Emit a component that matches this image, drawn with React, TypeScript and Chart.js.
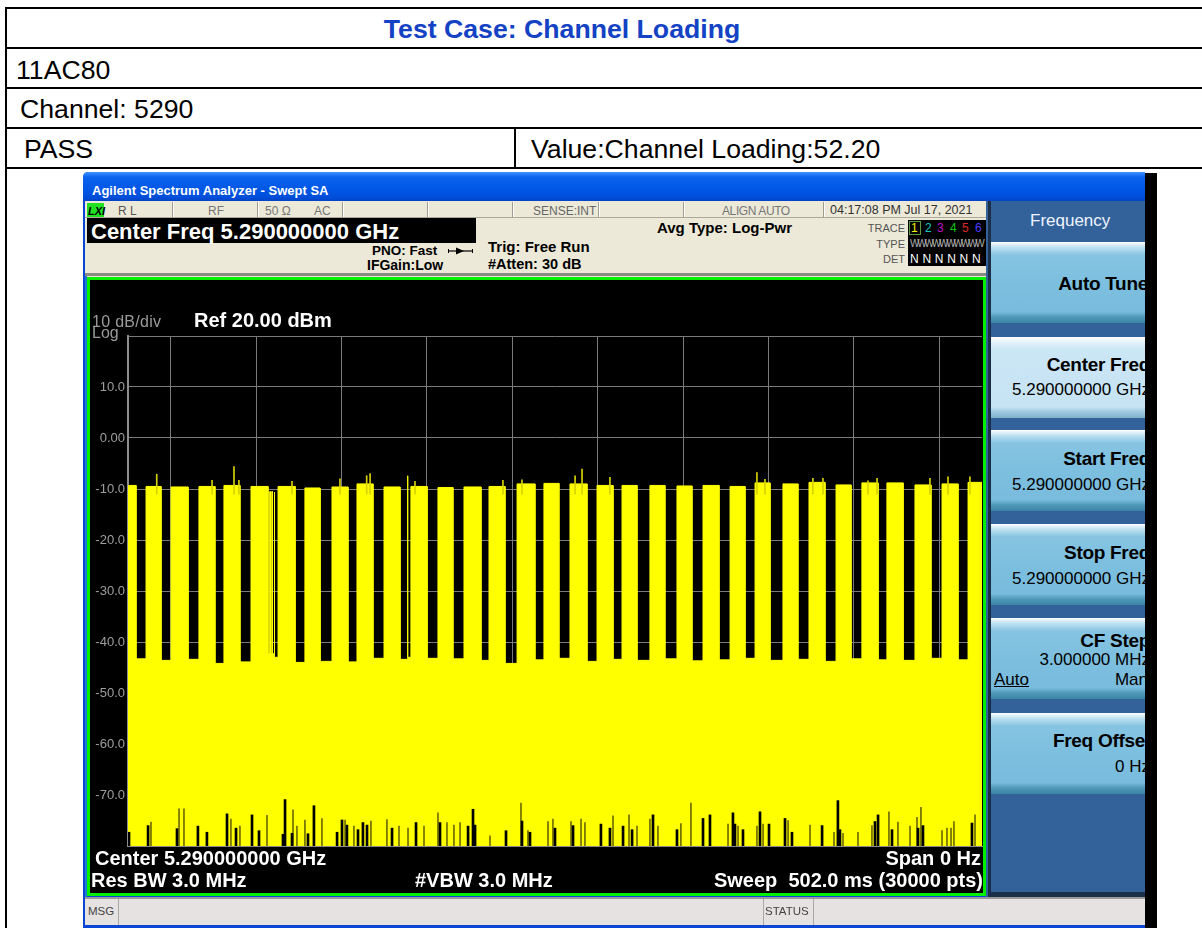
import React, { useEffect, useRef } from 'react';
import { Chart, registerables } from 'chart.js';

Chart.register(...registerables);

// ---------------- data (time axis in ms, level in dBm) ----------------
const SWEEP_MS = 502;
const xGridMs = [0, 50.2, 100.4, 150.6, 200.8, 251, 301.2, 351.4, 401.6, 451.8, 502];
const yTickValues = [20, 10, 0, -10, -20, -30, -40, -50, -60, -70, -80];
const yTickLabels = ['', '10.0', '0.00', '-10.0', '-20.0', '-30.0', '-40.0', '-50.0', '-60.0', '-70.0', ''];

// packet bursts: start, end, top level, floor level in the gap that follows
const burstStart = [0, 10.6, 25.3, 41.7, 56.4, 72.3, 83.4, 84.6, 86.0, 88.2, 104.0, 119.9, 134.6, 150.5, 164.3, 166.3, 182.2, 197.5, 212.2, 228.7, 244.5, 259.8, 275.7, 290.4, 306.8, 322.7, 338.0, 353.9, 368.6, 385.0, 400.3, 416.2, 431.4, 446.1, 462.6, 478.5, 493.8];
const burstEnd = [4.7, 19.4, 35.3, 51.1, 65.8, 82.3, 83.6, 84.8, 86.2, 98.2, 112.9, 129.3, 144.0, 159.9, 164.5, 175.8, 191.0, 207.5, 221.6, 239.2, 253.3, 269.8, 285.1, 299.2, 315.6, 331.5, 347.4, 362.7, 377.4, 393.8, 409.7, 425.0, 440.9, 455.6, 472.0, 487.9, 502];
const burstTop = [-9.3, -9.5, -9.6, -9.5, -9.3, -9.5, -10.5, -10.5, -10.6, -9.5, -9.8, -9.6, -9.0, -9.6, -7.4, -9.5, -9.7, -9.6, -9.5, -9.0, -8.9, -9.0, -9.3, -9.3, -9.3, -9.4, -9.3, -9.5, -8.8, -9.0, -8.7, -9.2, -8.8, -8.8, -9.2, -9.0, -8.7];
const gapFloor = [-43.3, -43.6, -43.4, -44.2, -43.9, -42.3, -42.3, -42.3, -43.0, -44.0, -43.8, -43.9, -43.2, -43.4, -43.0, -43.2, -43.3, -43.6, -44.2, -43.5, -43.2, -43.8, -43.4, -43.6, -43.3, -43.7, -43.5, -43.2, -43.6, -43.4, -43.8, -43.3, -43.5, -43.6, -43.2, -43.5, -43.5];

// narrow peaks above the burst tops
const peakTimes = [16.9, 49.4, 62.3, 65.2, 96.4, 124.6, 140.3, 142.3, 168.7, 220.4, 231.6, 262.8, 266.9, 283.3, 369.7, 374.4, 402.6, 408.5, 435.0, 440.3, 471.4, 482.0, 494.9];
const peakLevels = [-7.1, -8.3, -5.6, -8.3, -8.5, -8.0, -7.4, -7.0, -8.5, -8.3, -8.2, -7.4, -6.1, -7.7, -6.8, -8.1, -7.9, -7.9, -8.4, -7.9, -7.9, -7.6, -7.6];

// columns whose minimum sits above the bottom of the screen (dark notches at -80..-70)
const notchTimes = [0.6, 11.8, 13.5, 28.8, 30.0, 32.9, 41.1, 46.4, 58.2, 60.5, 63.5, 65.8, 72.9, 77.0, 81.7, 91.1, 92.3, 96.4, 97.0, 99.3, 104.0, 105.8, 109.3, 114.0, 122.9, 125.8, 127.6, 128.7, 132.8, 135.2, 138.1, 140.5, 142.8, 152.2, 155.2, 159.3, 164.6, 169.3, 174.0, 182.2, 183.4, 187.5, 191.6, 195.2, 199.9, 202.8, 204.0, 212.8, 222.2, 231.0, 231.6, 235.1, 236.3, 246.9, 249.8, 251.0, 260.4, 261.6, 266.3, 268.6, 278.0, 283.3, 285.1, 291.0, 294.5, 296.3, 299.2, 306.8, 308.6, 311.5, 322.7, 325.0, 330.9, 338.0, 342.1, 352.7, 355.6, 356.8, 358.6, 361.5, 369.7, 371.5, 373.3, 376.8, 386.2, 388.0, 390.3, 400.9, 408.0, 415.0, 417.3, 418.5, 420.3, 429.1, 437.3, 439.1, 440.9, 447.3, 449.1, 452.6, 459.7, 463.8, 464.4, 466.1, 467.3, 478.5, 481.4, 483.8, 485.5, 496.1, 497.9];
const notchLevels = [-77.3, -76.0, -75.3, -76.6, -72.7, -72.7, -76.1, -77.3, -73.7, -74.7, -76.5, -76.1, -73.9, -77.0, -74.0, -77.7, -70.9, -77.5, -72.9, -76.1, -74.9, -77.6, -72.1, -74.6, -77.3, -74.9, -74.9, -75.9, -76.1, -76.8, -75.4, -75.9, -75.1, -74.8, -76.5, -76.1, -76.5, -75.4, -76.1, -73.5, -75.4, -75.4, -75.9, -75.4, -76.1, -72.8, -75.9, -78.0, -77.0, -71.6, -75.1, -77.0, -77.3, -75.2, -74.7, -76.5, -75.2, -76.0, -74.7, -75.4, -75.7, -76.5, -74.1, -76.1, -73.9, -76.8, -76.1, -74.7, -73.9, -76.1, -76.8, -75.6, -71.6, -74.6, -73.9, -75.7, -73.5, -75.7, -76.1, -76.8, -76.1, -73.3, -75.7, -75.7, -74.6, -75.0, -77.3, -75.9, -76.0, -77.3, -71.1, -76.8, -77.5, -77.3, -76.0, -75.2, -73.9, -73.3, -76.8, -75.3, -76.1, -74.4, -76.5, -72.4, -76.0, -77.0, -76.5, -76.5, -75.2, -75.5, -73.9];
const notchDark = [1, 1, 0, 1, 0, 0, 1, 1, 1, 0, 1, 0, 1, 1, 0, 1, 1, 1, 0, 0, 0, 1, 1, 0, 1, 1, 0, 1, 0, 1, 1, 1, 0, 0, 1, 0, 0, 1, 0, 0, 1, 0, 0, 0, 1, 1, 1, 0, 1, 0, 1, 0, 1, 0, 0, 1, 0, 1, 0, 0, 1, 1, 0, 1, 0, 1, 0, 0, 1, 0, 1, 0, 0, 1, 1, 0, 1, 1, 0, 1, 0, 1, 0, 1, 1, 0, 1, 0, 1, 0, 1, 1, 0, 0, 0, 1, 1, 0, 1, 0, 0, 0, 1, 0, 1, 0, 0, 0, 0, 1, 0];

// ---------------- helpers ----------------
const SANS = '"Liberation Sans", Arial, sans-serif';

type TP = {
  x: number; b: number; s: number; bold?: boolean; c?: string; al?: 'l' | 'r' | 'c';
  ff?: string; ls?: number; u?: boolean; it?: boolean; children: React.ReactNode;
};
function T({ x, b, s, bold, c = '#000', al = 'l', ff = SANS, ls, u, it, children }: TP) {
  return (
    <div
      style={{
        position: 'absolute', left: x, top: b - 0.8465 * s, fontSize: s, lineHeight: `${s}px`,
        fontFamily: ff, fontWeight: bold ? 700 : 400, fontStyle: it ? 'italic' : 'normal', color: c,
        whiteSpace: 'pre', letterSpacing: ls, textDecoration: u ? 'underline' : 'none',
        transform: al === 'r' ? 'translateX(-100%)' : al === 'c' ? 'translateX(-50%)' : undefined,
      }}
    >
      {children}
    </div>
  );
}
function B({ x, y, w, h, bg, st }: { x: number; y: number; w: number; h: number; bg: string; st?: React.CSSProperties }) {
  return <div style={{ position: 'absolute', left: x, top: y, width: w, height: h, background: bg, ...st }} />;
}

const btnNormal = 'linear-gradient(#ffffff 0px, #c2e2f2 5px, #86c4e2 13px, #7dbfdf 40px, #78bbdc 70px, #4f98b8 75px, #3b84a6 81px)';
const btnSel = 'linear-gradient(#ffffff 0px, #e4f3fb 5px, #cbe6f5 13px, #c6e3f4 70px, #9cc8df 75px, #7fb1cc 81px)';

function Trace() {
  const ref = useRef<HTMLCanvasElement>(null);
  useEffect(() => {
    const tracePoints: { x: number; y: number }[] = [];
    burstStart.forEach((s, i) => {
      const before = i === 0 ? gapFloor[0] : gapFloor[i - 1];
      tracePoints.push({ x: s, y: before }, { x: s, y: burstTop[i] }, { x: burstEnd[i], y: burstTop[i] }, { x: burstEnd[i], y: gapFloor[i] });
    });
    const peaks = peakTimes.map((t, i) => ({ x: t, y: [-11, peakLevels[i]] }));
    const darkNotches = notchTimes.map((t, i) => ({ t, v: notchLevels[i], d: notchDark[i] })).filter((p) => p.d === 1).map((p) => ({ x: p.t, y: [-80, p.v] }));
    const oliveNotches = notchTimes.map((t, i) => ({ t, v: notchLevels[i], d: notchDark[i] })).filter((p) => p.d === 0).map((p) => ({ x: p.t, y: [-80, p.v] }));

    const chart = new Chart(ref.current as HTMLCanvasElement, {
      type: 'line',
      data: {
        datasets: [
          { type: 'bar', data: darkNotches as any, backgroundColor: '#000000', barThickness: 2, grouped: false, order: 1 } as any,
          { type: 'bar', data: oliveNotches as any, backgroundColor: '#6f6c00', barThickness: 1, grouped: false, order: 1 } as any,
          { type: 'bar', data: peaks as any, backgroundColor: '#d6d200', barThickness: 1, grouped: false, order: 1 } as any,
          {
            type: 'line', data: tracePoints as any, borderColor: '#ffff00', borderWidth: 1, backgroundColor: '#ffff00',
            fill: 'start', pointRadius: 0, tension: 0, order: 2,
          } as any,
        ],
      },
      options: {
        animation: false,
        responsive: false,
        maintainAspectRatio: false,
        events: [],
        layout: { padding: { top: 56, right: 1, bottom: 47, left: 0 } },
        plugins: { legend: { display: false }, tooltip: { enabled: false } },
        scales: {
          x: {
            type: 'linear', min: 0, max: SWEEP_MS, offset: false,
            afterBuildTicks: (s: any) => { s.ticks = xGridMs.map((v) => ({ value: v })); },
            afterFit: (s: any) => { s.height = 0; },
            ticks: { display: false },
            grid: { color: '#7a7a7a', lineWidth: 1, drawTicks: false },
            border: { display: true, color: '#8a8a8a', width: 1 },
          },
          y: {
            type: 'linear', min: -80, max: 20,
            afterBuildTicks: (s: any) => { s.ticks = yTickValues.map((v) => ({ value: v })); },
            afterFit: (s: any) => { s.width = 38; },
            ticks: {
              autoSkip: false, padding: 3, color: '#9e9e9e', font: { family: 'Liberation Sans', size: 13 },
              callback: (v: any) => yTickLabels[yTickValues.indexOf(Number(v))] ?? '',
            },
            grid: { color: '#7a7a7a', lineWidth: 1, drawTicks: false },
            border: { display: true, color: '#8e8e8e', width: 2 },
          },
        },
      } as any,
    });
    return () => chart.destroy();
  }, []);
  return <canvas ref={ref} width={893} height={613} style={{ position: 'absolute', left: 90, top: 280, width: 893, height: 613 }} />;
}

export default function App() {
  const statusSeps = [172, 257, 342, 427, 512, 598, 683, 823];
  const buttons = [
    { y: 242, sel: false },
    { y: 337, sel: true },
    { y: 430, sel: false },
    { y: 524, sel: false },
    { y: 618, sel: false },
    { y: 713, sel: false },
  ];
  return (
    <div style={{ position: 'absolute', left: 0, top: 0, width: 1202, height: 928, overflow: 'hidden', background: '#ffffff', fontFamily: SANS }}>
      {/* document table */}
      <B x={5} y={7} w={1197} h={2} bg="#000" />
      <B x={5} y={47} w={1197} h={2} bg="#000" />
      <B x={5} y={87} w={1197} h={2} bg="#000" />
      <B x={5} y={127} w={1197} h={2} bg="#000" />
      <B x={5} y={167} w={1197} h={2} bg="#000" />
      <B x={5} y={7} w={2} h={921} bg="#000" />
      <B x={514} y={127} w={2} h={42} bg="#000" />
      <T x={562} b={39} s={26.67} bold c="#1442c4" al="c">Test Case: Channel Loading</T>
      <T x={16} b={80} s={26.67}>11AC80</T>
      <T x={20} b={119} s={26.67}>Channel: 5290</T>
      <T x={24} b={159} s={26.67}>PASS</T>
      <T x={531} b={159} s={26.67}>Value:Channel Loading:52.20</T>

      {/* analyzer window (clipped at the right) */}
      <div style={{ position: 'absolute', left: 0, top: 0, width: 1145, height: 928, overflow: 'hidden' }}>
        <B x={83} y={172} w={1070} h={760} bg="#0a46d4" st={{ borderTopLeftRadius: 5 }} />
        <B x={83} y={172} w={1070} h={29} bg="linear-gradient(#3f93ff 0%, #0b63ee 18%, #0058e6 55%, #004fdb 85%, #0044c8 100%)" st={{ borderTopLeftRadius: 5 }} />
        <T x={92} b={195} s={13} bold c="#ffffff">Agilent Spectrum Analyzer - Swept SA</T>

        {/* header area */}
        <B x={85} y={201} w={903} h={76} bg="#ece9d8" />
        <B x={85} y={217} w={903} h={1} bg="#aca899" />
        {statusSeps.map((sx) => (
          <React.Fragment key={sx}>
            <B x={sx} y={202} w={1} h={15} bg="#a09d90" />
            <B x={sx + 1} y={202} w={1} h={15} bg="#ffffff" />
          </React.Fragment>
        ))}
        <B x={87} y={203} w={17} h={14} bg="#22e022" />
        <T x={88} b={215} s={11} bold it c="#000">LXI</T>
        <T x={118} b={215} s={12} c="#555">R L</T>
        <T x={208} b={215} s={12} c="#777">RF</T>
        <T x={265} b={215} s={12} c="#777">50 Ω</T>
        <T x={314} b={215} s={12} c="#777">AC</T>
        <T x={533} b={215} s={12} c="#666">SENSE:INT</T>
        <T x={722} b={215} s={12} c="#777" ls={-0.4}>ALIGN AUTO</T>
        <T x={830} b={215} s={12.5} c="#333">04:17:08 PM Jul 17, 2021</T>

        <B x={87} y={218} w={389} h={25} bg="#000" />
        <T x={91} b={239.5} s={22} bold c="#ffffff">Center Freq 5.290000000 GHz</T>

        <T x={372} b={255.5} s={13.5} bold>PNO: Fast</T>
        <svg style={{ position: 'absolute', left: 447, top: 246, width: 27, height: 10 }} width={27} height={10}>
          <line x1={1} y1={5} x2={26} y2={5} stroke="#000" strokeWidth={1.2} />
          <polygon points="9,1.5 17,5 9,8.5" fill="#000" />
          <line x1={1.5} y1={3} x2={1.5} y2={7} stroke="#000" strokeWidth={1} />
          <line x1={25.5} y1={3} x2={25.5} y2={7} stroke="#000" strokeWidth={1} />
        </svg>
        <T x={367} b={270} s={14} bold>IFGain:Low</T>
        <T x={488} b={251.7} s={15} bold>Trig: Free Run</T>
        <T x={488} b={269} s={14.5} bold>#Atten: 30 dB</T>
        <T x={657} b={232.5} s={15} bold>Avg Type: Log-Pwr</T>
        <T x={905} b={232} s={11} c="#555" al="r">TRACE</T>
        <T x={905} b={248} s={11} c="#555" al="r">TYPE</T>
        <T x={905} b={263.5} s={11} c="#555" al="r">DET</T>
        <B x={908} y={220} w={78} h={46} bg="#000" />
        <div style={{ position: 'absolute', left: 909, top: 221, width: 10, height: 12, border: '1px solid #5f9a3c' }} />
        <T x={911} b={232} s={12} c="#f0f000">1</T>
        <T x={925} b={232} s={12} c="#10c8c8">2</T>
        <T x={937} b={232} s={12} c="#c010c8">3</T>
        <T x={950} b={232} s={12} c="#10c810">4</T>
        <T x={962} b={232} s={12} c="#e02828">5</T>
        <T x={975} b={232} s={12} c="#4a3cff">6</T>
        <T x={910} b={247} s={10} c="#b0b0b0" ls={-2.2}>WWWWWWWWWW</T>
        <T x={910} b={263} s={12} c="#ffffff" ls={0.2}>N N N N N N</T>
        <B x={85} y={273} w={903} h={3} bg="#8a8a84" />

        {/* graph frame */}
        <B x={85} y={276} w={2} h={621} bg="#1e7bd0" />
        <div style={{ position: 'absolute', left: 87, top: 277, width: 899, height: 619, border: '3px solid #00f000', boxSizing: 'border-box', background: '#000' }} />
        <Trace />
        <T x={92} b={327.5} s={16} c="#9a9a9a" ls={0.3}>10 dB/div</T>
        <T x={92} b={338.5} s={16} c="#9a9a9a">Log</T>
        <T x={194} b={326.7} s={20} bold c="#ffffff">Ref 20.00 dBm</T>
        <T x={95} b={865} s={20} bold c="#ffffff">Center 5.290000000 GHz</T>
        <T x={91} b={887} s={20} bold c="#ffffff">Res BW 3.0 MHz</T>
        <T x={415} b={887} s={20} bold c="#ffffff">#VBW 3.0 MHz</T>
        <T x={981} b={865} s={20} bold c="#ffffff" al="r">Span 0 Hz</T>
        <T x={983} b={887} s={20} bold c="#ffffff" al="r">{'Sweep  502.0 ms (30000 pts)'}</T>

        {/* soft-key panel */}
        <B x={986} y={201} w={170} h={696} bg="#33629a" />
        <B x={988} y={201} w={3} h={696} bg="#1b2f48" />
        <T x={1030} b={226.5} s={17} c="#eef4ff">Frequency</T>
        {buttons.map((bt) => (
          <B key={bt.y} x={991} y={bt.y} w={170} h={81} bg={bt.sel ? btnSel : btnNormal} />
        ))}
        <B x={988} y={892} w={170} h={5} bg="#1b2f48" />
        <T x={1148} b={290} s={19} bold al="r" ls={-0.3}>Auto Tune</T>
        <T x={1150} b={371} s={19} bold al="r" ls={-0.3}>Center Freq</T>
        <T x={1150} b={395.7} s={17} al="r">5.290000000 GHz</T>
        <T x={1150} b={465} s={19} bold al="r" ls={-0.3}>Start Freq</T>
        <T x={1150} b={490} s={17} al="r">5.290000000 GHz</T>
        <T x={1150} b={559.3} s={19} bold al="r" ls={-0.3}>Stop Freq</T>
        <T x={1150} b={584.3} s={17} al="r">5.290000000 GHz</T>
        <T x={1150} b={646.7} s={19} bold al="r" ls={-0.3}>CF Step</T>
        <T x={1150} b={665.7} s={17} al="r">3.000000 MHz</T>
        <T x={994} b={685} s={17} u>Auto</T>
        <T x={1148} b={685} s={17} al="r">Man</T>
        <T x={1151} b={746.7} s={19} bold al="r" ls={-0.3}>Freq Offset</T>
        <T x={1150} b={772.7} s={17} al="r">0 Hz</T>

        {/* message bar */}
        <B x={85} y={897} w={1070} h={28} bg="#e6e2e2" st={{ borderTop: '2px solid #9a9a9a', boxSizing: 'border-box' }} />
        <B x={118} y={899} w={1} h={26} bg="#a8a8a8" />
        <B x={763} y={899} w={1} h={26} bg="#a8a8a8" />
        <B x={813} y={899} w={1} h={26} bg="#a8a8a8" />
        <T x={88} b={916} s={11.5} c="#444">MSG</T>
        <T x={765} b={916} s={11.5} c="#444">STATUS</T>
        <B x={83} y={925} w={1070} h={3} bg="#0a46d4" />
      </div>
      <B x={1145} y={173} w={12} h={755} bg="#000" />
    </div>
  );
}
